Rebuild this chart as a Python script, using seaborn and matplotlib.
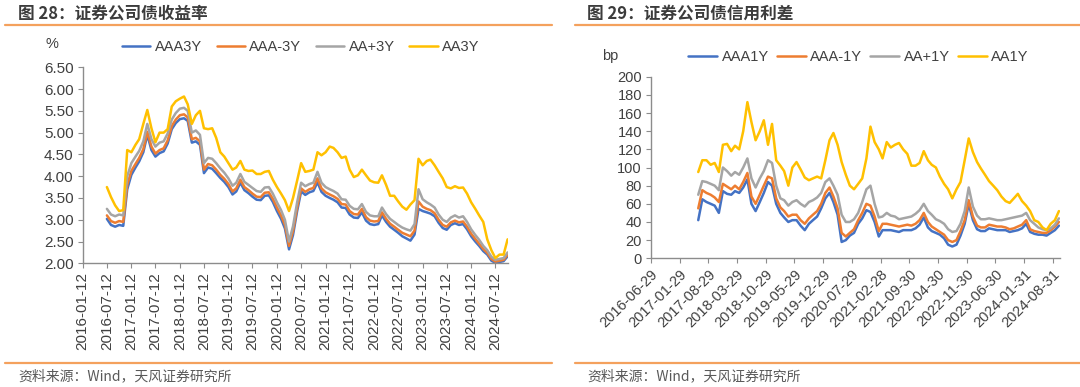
import pandas as pd
import matplotlib
matplotlib.use("Agg")
import matplotlib.pyplot as plt
import seaborn as sns
from matplotlib.lines import Line2D

# --- Style ---
sns.set_style("white")
plt.rcParams["font.family"] = ["Liberation Sans", "Noto Sans CJK SC", "DejaVu Sans"]
plt.rcParams["axes.unicode_minus"] = False
CJK = ["Noto Sans CJK SC", "DejaVu Sans"]

# --- Data: 证券公司债收益率 (%), monthly, 2016-07 .. 2024-10 ---
aaa3y = [
    3.02, 2.88, 2.84, 2.88, 2.86, 3.70, 4.03, 4.20, 4.34, 4.55,
    4.95, 4.60, 4.45, 4.53, 4.57, 4.75, 5.08, 5.22, 5.31, 5.33,
    5.27, 4.77, 4.80, 4.72, 4.07, 4.20, 4.17, 4.07, 3.96, 3.87,
    3.75, 3.58, 3.65, 3.85, 3.68, 3.61, 3.53, 3.46, 3.45, 3.55,
    3.56, 3.41, 3.20, 3.02, 2.80, 2.32, 2.65, 3.20, 3.65, 3.57,
    3.63, 3.66, 3.86, 3.64, 3.55, 3.50, 3.46, 3.40, 3.28, 3.27,
    3.12, 3.05, 3.04, 3.17, 2.98, 2.90, 2.88, 2.90, 3.10, 2.95,
    2.84, 2.77, 2.70, 2.62, 2.57, 2.52, 2.66, 3.25, 3.20, 3.17,
    3.14, 3.08, 2.93, 2.81, 2.77, 2.88, 2.92, 2.88, 2.90, 2.78,
    2.62, 2.50, 2.40, 2.28, 2.20, 2.06, 2.01, 2.03, 2.05, 2.16,
]
aaa_minus3y = [
    3.10, 2.97, 2.93, 2.97, 2.95, 3.80, 4.12, 4.28, 4.42, 4.62,
    5.02, 4.68, 4.52, 4.60, 4.64, 4.82, 5.15, 5.30, 5.40, 5.42,
    5.35, 4.85, 4.88, 4.80, 4.15, 4.28, 4.25, 4.15, 4.03, 3.94,
    3.82, 3.65, 3.72, 3.92, 3.75, 3.68, 3.60, 3.53, 3.52, 3.62,
    3.63, 3.48, 3.28, 3.10, 2.88, 2.40, 2.74, 3.28, 3.72, 3.64,
    3.70, 3.73, 3.95, 3.72, 3.63, 3.58, 3.54, 3.48, 3.36, 3.35,
    3.20, 3.13, 3.12, 3.25, 3.06, 2.98, 2.96, 2.97, 3.17, 3.02,
    2.91, 2.84, 2.77, 2.70, 2.66, 2.62, 2.75, 3.42, 3.30, 3.25,
    3.22, 3.15, 3.00, 2.88, 2.84, 2.94, 2.98, 2.94, 2.96, 2.84,
    2.68, 2.56, 2.45, 2.33, 2.24, 2.10, 2.04, 2.06, 2.08, 2.20,
]
aa_plus3y = [
    3.25, 3.12, 3.08, 3.12, 3.10, 4.00, 4.30, 4.45, 4.58, 4.80,
    5.20, 4.85, 4.68, 4.77, 4.80, 4.98, 5.30, 5.45, 5.55, 5.57,
    5.50, 5.00, 5.05, 4.95, 4.30, 4.42, 4.40, 4.30, 4.18, 4.08,
    3.95, 3.78, 3.85, 4.05, 3.87, 3.80, 3.73, 3.66, 3.64, 3.74,
    3.75, 3.60, 3.40, 3.22, 3.00, 2.50, 2.85, 3.40, 3.85, 3.77,
    3.82, 3.85, 4.10, 3.85, 3.75, 3.70, 3.66, 3.60, 3.47, 3.46,
    3.32, 3.25, 3.24, 3.36, 3.18, 3.10, 3.08, 3.08, 3.28, 3.13,
    3.02, 2.95, 2.88, 2.82, 2.78, 2.75, 2.90, 3.70, 3.47, 3.40,
    3.35, 3.28, 3.12, 3.00, 2.95, 3.05, 3.10, 3.05, 3.08, 2.95,
    2.78, 2.65, 2.54, 2.40, 2.30, 2.15, 2.08, 2.10, 2.12, 2.25,
]
aa3y = [
    3.75, 3.52, 3.33, 3.20, 3.22, 4.60, 4.55, 4.72, 4.85, 5.20,
    5.52, 5.10, 4.78, 5.00, 5.00, 5.08, 5.60, 5.72, 5.78, 5.83,
    5.65, 5.20, 5.40, 5.50, 5.10, 5.08, 5.10, 4.88, 4.55, 4.45,
    4.30, 4.15, 4.20, 4.35, 4.15, 4.12, 4.13, 4.05, 4.05, 4.10,
    4.12, 3.92, 3.75, 3.60, 3.45, 3.20, 3.50, 3.90, 4.30, 4.10,
    4.12, 4.15, 4.55, 4.48, 4.55, 4.68, 4.65, 4.55, 4.42, 4.45,
    4.15, 3.98, 4.02, 4.15, 4.02, 3.90, 3.86, 3.85, 4.02, 3.80,
    3.55, 3.55, 3.42, 3.30, 3.23, 3.35, 3.45, 4.40, 4.25, 4.35,
    4.38, 4.25, 4.10, 3.95, 3.75, 3.72, 3.77, 3.73, 3.74, 3.60,
    3.40, 3.25, 3.10, 2.95, 2.55, 2.30, 2.12, 2.20, 2.20, 2.55,
]

# --- Data: 证券公司债信用利差 (bp), monthly, 2017-06 .. 2024-10 ---
aaa1y = [
    42, 65, 62, 60, 58, 50, 74, 71, 70, 74,
    72, 78, 87, 60, 52, 62, 72, 84, 80, 60,
    50, 45, 40, 42, 42, 36, 31, 38, 42, 46,
    55, 66, 72, 62, 48, 18, 20, 25, 28, 38,
    44, 53, 51, 40, 24, 31, 31, 31, 30, 29,
    31, 31, 31, 33, 37, 45, 34, 30, 28, 26,
    22, 15, 13, 15, 25, 38, 60, 42, 32, 30,
    30, 33, 32, 31, 31, 31, 29, 30, 31, 33,
    38, 29, 27, 26, 26, 25, 28, 31, 36,
]
aaa_minus1y = [
    55, 75, 72, 70, 67, 62, 82, 79, 76, 80,
    76, 84, 94, 68, 60, 70, 80, 90, 88, 66,
    56, 52, 46, 48, 48, 42, 38, 44, 48, 52,
    60, 72, 78, 68, 55, 28, 24, 28, 32, 42,
    50, 60, 58, 46, 30, 38, 38, 37, 36, 35,
    36, 37, 36, 38, 42, 50, 40, 35, 32, 29,
    26, 20, 18, 20, 30, 42, 64, 46, 36, 34,
    34, 37, 36, 35, 35, 34, 32, 33, 35, 37,
    42, 32, 30, 29, 28, 28, 31, 35, 40,
]
aa_plus1y = [
    70, 85, 84, 82, 80, 75, 100, 96, 91, 95,
    92, 100, 110, 88, 78, 88, 96, 108, 105, 80,
    66, 64, 58, 62, 64, 60, 57, 62, 64, 67,
    72, 84, 88, 80, 70, 48, 40, 40, 43, 50,
    62, 76, 80, 60, 45, 46, 50, 47, 46, 43,
    44, 45, 46, 49, 53, 60, 52, 48, 43, 41,
    38, 32, 29, 30, 38, 52, 78, 57, 47, 43,
    43, 44, 43, 42, 42, 43, 44, 45, 46, 47,
    50, 42, 38, 34, 32, 31, 33, 37, 44,
]
aa1y = [
    95, 108, 108, 103, 105, 95, 125, 126, 118, 124,
    120, 140, 172, 150, 130, 140, 152, 125, 148, 108,
    102, 96, 80, 100, 106, 98, 89, 86, 88, 90,
    88, 108, 130, 138, 125, 106, 92, 80, 76, 82,
    88, 110, 145, 128, 120, 110, 128, 122, 125, 127,
    120, 115, 102, 102, 105, 118, 108, 103, 100, 90,
    82, 76, 66, 76, 84, 108, 132, 117, 106, 99,
    92, 85, 80, 75, 68, 63, 61, 66, 71, 63,
    58, 52, 42, 40, 34, 31, 38, 42, 52,
]

right_ticks = ["2016-06-29", "2017-01-29", "2017-08-29", "2018-03-29", "2018-10-29",
               "2019-05-29", "2019-12-29", "2020-07-29", "2021-02-28", "2021-09-30",
               "2022-04-30", "2022-11-30", "2023-06-30", "2024-01-31", "2024-08-31"]

colors = ["#4472C4", "#ED7D31", "#A5A5A5", "#FFC000"]

# --- Long frames ---
left_dates = pd.date_range("2016-07-12", periods=len(aaa3y), freq=pd.DateOffset(months=1))
left_df = pd.DataFrame({"date": left_dates, "AAA3Y": aaa3y, "AAA-3Y": aaa_minus3y,
                        "AA+3Y": aa_plus3y, "AA3Y": aa3y}).melt("date", var_name="series", value_name="value")
right_dates = pd.date_range("2017-06-15", periods=len(aaa1y), freq=pd.DateOffset(months=1))
right_df = pd.DataFrame({"date": right_dates, "AAA1Y": aaa1y, "AAA-1Y": aaa_minus1y,
                         "AA+1Y": aa_plus1y, "AA1Y": aa1y}).melt("date", var_name="series", value_name="value")

W, H = 1080, 387
fig = plt.figure(figsize=(W / 100, H / 100), dpi=100)
ax1 = fig.add_axes([82.7 / W, 1 - 263.3 / H, (508 - 82.7) / W, (263.3 - 67.3) / H])
ax2 = fig.add_axes([651 / W, 1 - 258.3 / H, (1060 - 651) / W, (258.3 - 76.7) / H])

sns.lineplot(data=left_df, x="date", y="value", hue="series",
             palette=dict(zip(["AAA3Y", "AAA-3Y", "AA+3Y", "AA3Y"], colors)), linewidth=1.8, ax=ax1)
sns.lineplot(data=right_df, x="date", y="value", hue="series",
             palette=dict(zip(["AAA1Y", "AAA-1Y", "AA+1Y", "AA1Y"], colors)), linewidth=1.8, ax=ax2)

axis_col = "#8C8C8C"
text_col = "#404040"
for ax in (ax1, ax2):
    ax.set_xlabel("")
    ax.set_ylabel("")
    sns.despine(ax=ax)
    for s in ("left", "bottom"):
        ax.spines[s].set_color(axis_col)
        ax.spines[s].set_linewidth(1.0)
    ax.tick_params(axis="both", direction="out", length=3.5, width=0.8, color=axis_col,
                   labelcolor=text_col, pad=3, left=True, bottom=True)

# left axes
ax1.set_ylim(2.0, 6.5)
ax1.set_yticks([2.0 + 0.5 * i for i in range(10)])
ax1.set_yticklabels([f"{2.0 + 0.5 * i:.2f}" for i in range(10)], fontsize=11)
ax1.set_xlim(pd.Timestamp("2016-01-12"), pd.Timestamp("2024-10-15"))
lt = pd.date_range("2016-01-12", periods=18, freq=pd.DateOffset(months=6))
ax1.set_xticks(lt)
ax1.set_xticklabels([d.strftime("%Y-%m-%d") for d in lt], rotation=90, fontsize=11)

# right axes
ax2.set_ylim(0, 200)
ax2.set_yticks(range(0, 201, 20))
ax2.set_yticklabels([str(v) for v in range(0, 201, 20)], fontsize=10.5)
ax2.set_xlim(pd.Timestamp("2016-06-29"), pd.Timestamp("2024-10-23"))
rt = pd.to_datetime(right_ticks)
ax2.set_xticks(rt)
ax2.set_xticklabels(right_ticks, rotation=45, ha="right", rotation_mode="anchor", fontsize=10.5)

# legends
sns.move_legend(ax1, "center left", bbox_to_anchor=(122 / W, 1 - 47 / H), bbox_transform=fig.transFigure,
                ncol=4, title=None, frameon=False, fontsize=10.5, handlelength=1.95, handletextpad=0.3,
                columnspacing=1.0, borderaxespad=0, borderpad=0)
sns.move_legend(ax2, "center left", bbox_to_anchor=(688 / W, 1 - 57 / H), bbox_transform=fig.transFigure,
                ncol=4, title=None, frameon=False, fontsize=10.5, handlelength=2.0, handletextpad=0.3,
                columnspacing=0.55, borderaxespad=0, borderpad=0)
for ax in (ax1, ax2):
    for t in ax.get_legend().get_texts():
        t.set_color(text_col)

# units
fig.text(52 / W, 1 - 44 / H, "%", fontsize=10.5, color=text_col, ha="center", va="center")
fig.text(610 / W, 1 - 56 / H, "bp", fontsize=10.5, color=text_col, ha="center", va="center")

# titles, rules, source
rule_col = "#F4A15D"
fig.text(18 / W, 1 - 13 / H, "图 28：证券公司债收益率", family=CJK, fontsize=12, fontweight="bold",
         color="#3C3C3C", ha="left", va="center")
fig.text(587 / W, 1 - 13 / H, "图 29：证券公司债信用利差", family=CJK, fontsize=12, fontweight="bold",
         color="#3C3C3C", ha="left", va="center")
for y in (25, 363):
    fig.add_artist(Line2D([5 / W, 552 / W], [1 - y / H] * 2, transform=fig.transFigure, color=rule_col, lw=1.6))
    fig.add_artist(Line2D([575 / W, 1.0], [1 - y / H] * 2, transform=fig.transFigure, color=rule_col, lw=1.6))
fig.text(18 / W, 1 - 376 / H, "资料来源：Wind，天风证券研究所", family=CJK, fontsize=10,
         color="#595959", ha="left", va="center")
fig.text(587 / W, 1 - 376 / H, "资料来源：Wind，天风证券研究所", family=CJK, fontsize=10,
         color="#595959", ha="left", va="center")

fig.savefig("out.png", dpi=100, facecolor="white")
